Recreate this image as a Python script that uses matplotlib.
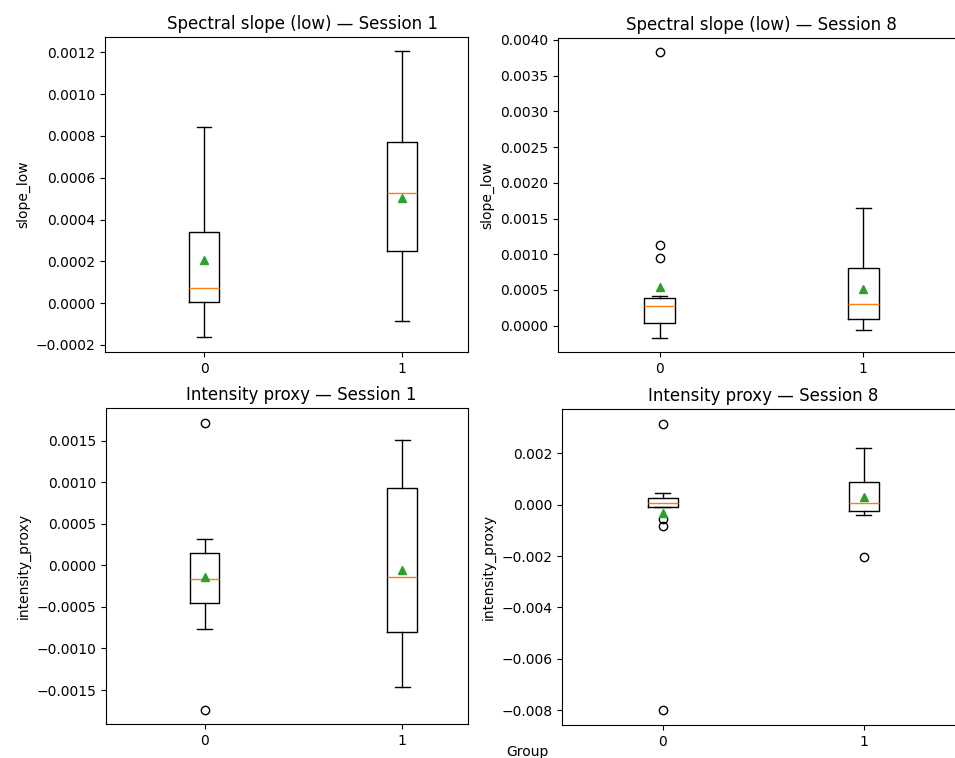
import matplotlib
matplotlib.use("Agg")
import matplotlib.pyplot as plt

groups = ["0", "1"]

# Spectral slope (low) — Session 1
s1_slope_med = [0.000074, 0.000529]
s1_slope_q1 = [0.0000072, 0.00025]
s1_slope_q3 = [0.000342, 0.00077]
s1_slope_lo = [-0.000163, -0.000085]
s1_slope_hi = [0.000841, 0.001206]
s1_slope_mean = [0.000207, 0.000503]
s1_slope_fliers = [[], []]

# Spectral slope (low) — Session 8
s8_slope_med = [0.000276, 0.000304]
s8_slope_q1 = [0.000042, 0.000098]
s8_slope_q3 = [0.000392, 0.000812]
s8_slope_lo = [-0.000176, -0.00006]
s8_slope_hi = [0.000416, 0.001652]
s8_slope_mean = [0.000538, 0.000518]
s8_slope_fliers = [[0.003836, 0.001126, 0.000952], []]

# Intensity proxy — Session 1
s1_int_med = [-0.000168, -0.000144]
s1_int_q1 = [-0.000457, -0.000806]
s1_int_q3 = [0.000152, 0.000934]
s1_int_lo = [-0.000766, -0.001464]
s1_int_hi = [0.000317, 0.001508]
s1_int_mean = [-0.000144, -0.000056]
s1_int_fliers = [[0.001709, -0.001737], []]

# Intensity proxy — Session 8
s8_int_med = [0.000055, 0.000052]
s8_int_q1 = [-0.000078, -0.000234]
s8_int_q3 = [0.000249, 0.000883]
s8_int_lo = [-0.000078, -0.00039]
s8_int_hi = [0.000444, 0.00222]
s8_int_mean = [-0.000335, 0.000312]
s8_int_fliers = [[0.003143, -0.000557, -0.000818, -0.008], [-0.002026]]


def make_stats(med, q1, q3, lo, hi, mean, fliers):
    out = []
    for i, g in enumerate(groups):
        out.append(dict(med=med[i], q1=q1[i], q3=q3[i], whislo=lo[i],
                        whishi=hi[i], mean=mean[i], fliers=fliers[i], label=g))
    return out


W, H = 955, 758
fig = plt.figure(figsize=(W / 100, H / 100), dpi=100)


def px_axes(left, right, top, bottom):
    return fig.add_axes([left / W, 1 - bottom / H, (right - left) / W, (bottom - top) / H])


panels = [
    (px_axes(105, 468, 37, 352), make_stats(s1_slope_med, s1_slope_q1, s1_slope_q3, s1_slope_lo,
                                            s1_slope_hi, s1_slope_mean, s1_slope_fliers),
     "Spectral slope (low) — Session 1", "slope_low", (-0.0002335, 0.001273), (0.5, 2.333), 0.545),
    (px_axes(558, 965, 38, 352), make_stats(s8_slope_med, s8_slope_q1, s8_slope_q3, s8_slope_lo,
                                            s8_slope_hi, s8_slope_mean, s8_slope_fliers),
     "Spectral slope (low) — Session 8", "slope_low", (-0.000369, 0.004028), (0.5, 2.5), 0.5),
    (px_axes(105.7, 468, 408, 724), make_stats(s1_int_med, s1_int_q1, s1_int_q3, s1_int_lo,
                                               s1_int_hi, s1_int_mean, s1_int_fliers),
     "Intensity proxy — Session 1", "intensity_proxy", (-0.001909, 0.001893), (0.5, 2.333), 0.541),
    (px_axes(562, 964.5, 409, 725), make_stats(s8_int_med, s8_int_q1, s8_int_q3, s8_int_lo,
                                               s8_int_hi, s8_int_mean, s8_int_fliers),
     "Intensity proxy — Session 8", "intensity_proxy", (-0.008584, 0.003727), (0.5, 2.5), 0.5),
]

for ax, stats, title, ylabel, ylim, xlim, tx in panels:
    ax.bxp(stats, positions=[1, 2], showmeans=True)
    ax.set_title(title, x=tx)
    ax.set_ylabel(ylabel)
    ax.set_ylim(*ylim)
    ax.set_xlim(*xlim)

fig.text(527 / W, 1 - 752 / H, "Group", ha="center", va="center", fontsize=10)

fig.savefig("out.png", dpi=100)
